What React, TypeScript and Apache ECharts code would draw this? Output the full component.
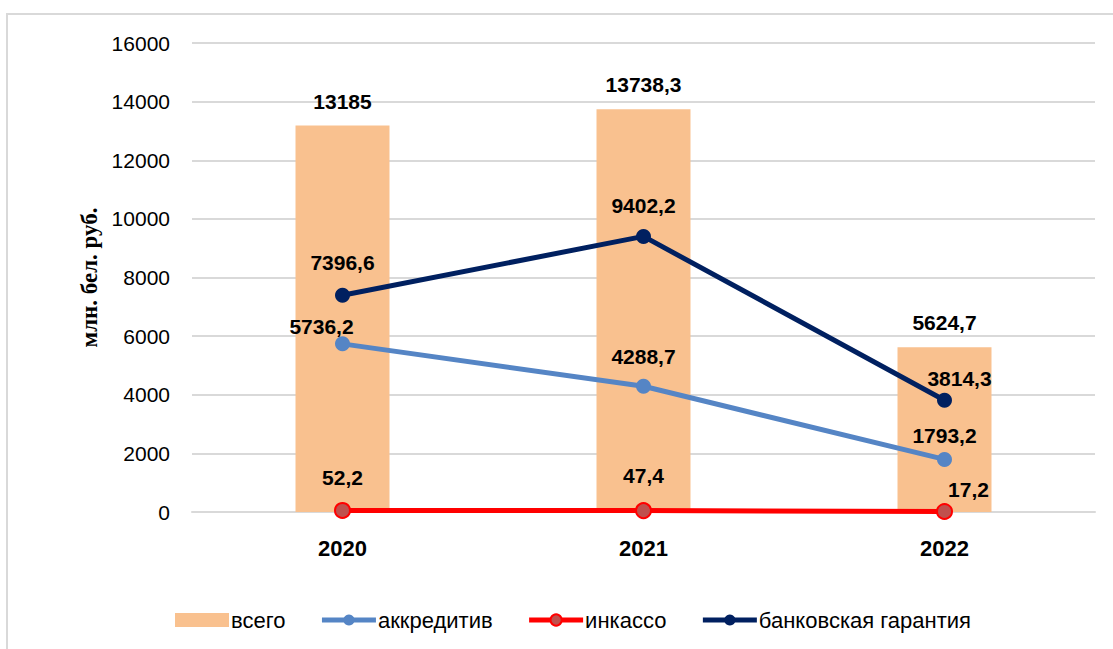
import React, { useEffect, useRef } from "react";
import * as echarts from "echarts";

const years = ["2020", "2021", "2022"];
const total = [13185, 13738.3, 5624.7];
const akkreditiv = [5736.2, 4288.7, 1793.2];
const inkasso = [52.2, 47.4, 17.2];
const garantiya = [7396.6, 9402.2, 3814.3];
const yTicks = { min: 0, max: 16000, interval: 2000 };

const akkOffsets = [[-21, -17], [0, -30], [0, -24]];
const inkOffsets = [[0, -33], [0, -35], [24, -22]];
const garOffsets = [[0, -33], [0, -31], [15, -22]];

const fmt = (v: number) => String(v).replace(".", ",");

const labelStyle = {
  color: "#000",
  fontSize: 21,
  fontWeight: "bold" as const,
  fontFamily: "Liberation Sans, Arial, sans-serif",
};

function lineData(vals: number[], offs: number[][]) {
  return vals.map((v, i) => ({
    value: v,
    label: { offset: offs[i] },
  }));
}

export default function App() {
  const ref = useRef<HTMLDivElement>(null);
  useEffect(() => {
    if (!ref.current) return;
    const chart = echarts.init(ref.current, null, { renderer: "svg" });
    chart.setOption({
      animation: false,
      backgroundColor: "#fff",
      textStyle: { fontFamily: "Liberation Sans, Arial, sans-serif" },
      graphic: [
        {
          type: "rect",
          shape: { x: 7, y: 14, width: 1200, height: 800 },
          style: { fill: "none", stroke: "#d9d9d9", lineWidth: 2 },
          silent: true,
        },
      ],
      grid: { left: 192, right: 18, top: 43, bottom: 137 },
      xAxis: {
        type: "category",
        data: years,
        boundaryGap: true,
        axisLine: { lineStyle: { color: "#d9d9d9", width: 2 } },
        axisTick: { show: false },
        axisLabel: {
          color: "#000",
          fontSize: 22,
          fontWeight: "bold",
          margin: 25,
        },
      },
      yAxis: {
        type: "value",
        min: yTicks.min,
        max: yTicks.max,
        interval: yTicks.interval,
        name: "млн. бел. руб.",
        nameLocation: "middle",
        nameGap: 90,
        nameTextStyle: {
          fontFamily: "Liberation Serif, Times New Roman, serif",
          fontWeight: "bold",
          fontSize: 23,
          color: "#000",
        },
        axisLine: { show: false },
        axisTick: { show: false },
        axisLabel: {
          color: "#000",
          fontSize: 21,
          margin: 22,
          formatter: (v: number) => String(v),
        },
        splitLine: { lineStyle: { color: "#d9d9d9", width: 2 } },
      },
      legend: {
        left: 170,
        top: 604,
        itemWidth: 54,
        itemHeight: 14,
        itemGap: 34,
        lineStyle: { width: 5 },
        textStyle: { color: "#000", fontSize: 22, padding: [0, 0, 0, -3] },
        data: [
          { name: "всего", icon: "rect" },
          "аккредитив",
          "инкассо",
          "банковская гарантия",
        ],
      },
      series: [
        {
          name: "всего",
          type: "bar",
          data: total,
          barWidth: 94,
          itemStyle: { color: "#F9C18F" },
          label: {
            show: true,
            position: "top",
            distance: 14,
            formatter: (p: any) => fmt(p.value),
            ...labelStyle,
          },
          z: 1,
        },
        {
          name: "аккредитив",
          type: "line",
          data: lineData(akkreditiv, akkOffsets),
          symbol: "circle",
          symbolSize: 15,
          lineStyle: { color: "#5585C5", width: 5 },
          itemStyle: { color: "#5585C5" },
          label: {
            show: true,
            position: "inside",
            formatter: (p: any) => fmt(p.value),
            ...labelStyle,
          },
          z: 3,
        },
        {
          name: "инкассо",
          type: "line",
          data: lineData(inkasso, inkOffsets),
          symbol: "circle",
          symbolSize: 15,
          lineStyle: { color: "#FF0000", width: 5 },
          itemStyle: { color: "#C0504D", borderColor: "#FF0000", borderWidth: 2 },
          label: {
            show: true,
            position: "inside",
            formatter: (p: any) => fmt(p.value),
            ...labelStyle,
          },
          z: 3,
        },
        {
          name: "банковская гарантия",
          type: "line",
          data: lineData(garantiya, garOffsets),
          symbol: "circle",
          symbolSize: 15,
          lineStyle: { color: "#002060", width: 5 },
          itemStyle: { color: "#002060" },
          label: {
            show: true,
            position: "inside",
            formatter: (p: any) => fmt(p.value),
            ...labelStyle,
          },
          z: 3,
        },
      ],
    });
    return () => chart.dispose();
  }, []);
  return <div ref={ref} style={{ width: 1113, height: 649, position: "absolute", left: 0, top: 0 }} />;
}
